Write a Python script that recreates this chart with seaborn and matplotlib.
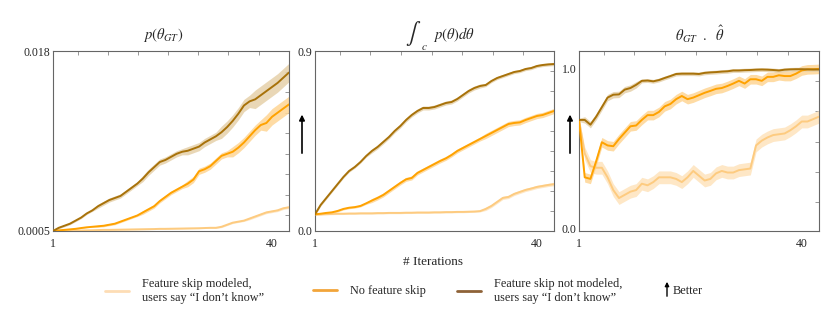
import numpy as np
import pandas as pd
import matplotlib
matplotlib.use('Agg')
import matplotlib.pyplot as plt
import seaborn as sns

iterations = list(range(1, 44))
series_names = ['Feature skip modeled,\nusers say \u201cI don\u2019t know\u201d',
                'No feature skip',
                'Feature skip not modeled,\nusers say \u201cI don\u2019t know\u201d']

# panel 1: p(theta_GT)
p_gt_light = [0.0005, 0.0005, 0.00051, 0.00052, 0.00053, 0.00054, 0.00055, 0.00056, 0.00058, 0.0006,
              0.0006, 0.00061, 0.00062, 0.00063, 0.00064, 0.00065, 0.00066, 0.00067, 0.00068, 0.0007,
              0.0007, 0.00071, 0.00072, 0.00073, 0.00074, 0.00075, 0.00076, 0.00078, 0.0008, 0.0008,
              0.0009, 0.0011, 0.0013, 0.0014, 0.0015, 0.0017, 0.0019, 0.0021, 0.0023, 0.0024,
              0.0025, 0.0027, 0.0028]
p_gt_none = [0.0005, 0.00055, 0.0006, 0.00065, 0.0007, 0.00078, 0.00085, 0.0009, 0.00095, 0.001,
             0.0011, 0.0012, 0.0014, 0.0016, 0.0018, 0.002, 0.0023, 0.0026, 0.0029, 0.0034,
             0.0038, 0.0042, 0.0045, 0.0048, 0.0051, 0.0055, 0.0063, 0.0065, 0.0068, 0.0073,
             0.0078, 0.008, 0.0082, 0.0086, 0.0091, 0.0097, 0.0103, 0.0108, 0.011, 0.0116,
             0.012, 0.0124, 0.0128]
p_gt_dark = [0.0005, 0.0008, 0.001, 0.0012, 0.0015, 0.0018, 0.0022, 0.0025, 0.0029, 0.0032,
             0.0035, 0.0037, 0.0039, 0.0043, 0.0047, 0.0051, 0.0056, 0.0062, 0.0067, 0.0072,
             0.0074, 0.0077, 0.008, 0.0082, 0.0083, 0.0085, 0.0087, 0.0091, 0.0094, 0.0097,
             0.0101, 0.0106, 0.0112, 0.0119, 0.0127, 0.0131, 0.0133, 0.0137, 0.0141, 0.0145,
             0.0149, 0.0154, 0.0159]
p_gt_light_err = [0.00003] * 10 + [0.00005] * 20 + [0.00008] * 5 + [0.00012] * 8
p_gt_none_err = [0.00004] * 8 + [0.0001] * 8 + [0.00018] * 8 + [0.0003] * 8 + [0.0005] * 6 + [0.0008] * 5
p_gt_dark_err = [0.0001] * 8 + [0.0002] * 8 + [0.0003] * 8 + [0.0004] * 6 + [0.0006] * 6 + [0.0009] * 7

# panel 2: integral of p(theta) over c
int_light = [0.083, 0.083, 0.084, 0.085, 0.086, 0.086, 0.087, 0.087, 0.088, 0.088,
             0.088, 0.089, 0.089, 0.09, 0.09, 0.09, 0.091, 0.091, 0.092, 0.092,
             0.092, 0.093, 0.093, 0.094, 0.094, 0.095, 0.095, 0.096, 0.097, 0.099,
             0.11, 0.125, 0.145, 0.165, 0.17, 0.185, 0.195, 0.205, 0.212, 0.22,
             0.225, 0.23, 0.234]
int_none = [0.083, 0.086, 0.09, 0.093, 0.1, 0.11, 0.116, 0.119, 0.125, 0.138,
            0.152, 0.165, 0.18, 0.2, 0.22, 0.24, 0.258, 0.265, 0.29, 0.305,
            0.32, 0.335, 0.35, 0.363, 0.38, 0.4, 0.415, 0.43, 0.445, 0.46,
            0.475, 0.49, 0.505, 0.52, 0.535, 0.54, 0.543, 0.555, 0.565, 0.575,
            0.58, 0.59, 0.6]
int_dark = [0.083, 0.13, 0.165, 0.2, 0.235, 0.27, 0.3, 0.32, 0.345, 0.375,
            0.4, 0.42, 0.445, 0.47, 0.5, 0.525, 0.555, 0.58, 0.6, 0.615,
            0.615, 0.62, 0.63, 0.64, 0.645, 0.66, 0.68, 0.7, 0.715, 0.725,
            0.73, 0.75, 0.765, 0.775, 0.785, 0.795, 0.8, 0.81, 0.815, 0.825,
            0.83, 0.833, 0.835]
int_light_err = [0.004] * 30 + [0.008] * 13
int_none_err = [0.005] * 10 + [0.01] * 20 + [0.013] * 13
int_dark_err = [0.006] * 10 + [0.01] * 20 + [0.008] * 13

# panel 3: theta_GT . theta_hat
dot_light = [0.68, 0.47, 0.39, 0.38, 0.38, 0.32, 0.24, 0.19, 0.21, 0.23,
             0.24, 0.28, 0.27, 0.29, 0.32, 0.32, 0.32, 0.31, 0.29, 0.32,
             0.36, 0.33, 0.3, 0.31, 0.345, 0.36, 0.35, 0.35, 0.365, 0.37,
             0.375, 0.52, 0.55, 0.57, 0.585, 0.59, 0.595, 0.615, 0.64, 0.67,
             0.67, 0.685, 0.7]
dot_none = [0.68, 0.32, 0.31, 0.42, 0.54, 0.52, 0.515, 0.56, 0.6, 0.64,
            0.645, 0.68, 0.71, 0.71, 0.73, 0.765, 0.78, 0.81, 0.83, 0.81,
            0.82, 0.835, 0.85, 0.862, 0.875, 0.88, 0.893, 0.908, 0.925, 0.908,
            0.935, 0.935, 0.925, 0.95, 0.95, 0.96, 0.955, 0.955, 0.97, 0.99,
            0.997, 0.998, 1.0]
dot_dark = [0.68, 0.68, 0.65, 0.7, 0.76, 0.82, 0.838, 0.84, 0.87, 0.88,
            0.9, 0.925, 0.927, 0.922, 0.93, 0.943, 0.955, 0.968, 0.97, 0.97,
            0.97, 0.968, 0.975, 0.978, 0.98, 0.983, 0.985, 0.99, 0.99, 0.992,
            0.993, 0.995, 0.996, 0.995, 0.993, 0.99, 0.995, 0.997, 0.998, 0.998,
            0.997, 0.996, 0.996]
dot_light_err = [0.01] + [0.04] * 42
dot_none_err = [0.01] + [0.03] * 42
dot_dark_err = [0.01] + [0.02] * 10 + [0.012] * 32

line_colors = ['#FDCB80', '#FFA200', '#A8720A']
band_colors = ['#FEE3BC', '#FED594', '#E6D1AA']
legend_colors = ['#FDDDB5', '#F2A53A', '#8E6238']

panels = [
    (r'$p(\theta_{GT})$', [p_gt_light, p_gt_none, p_gt_dark], [p_gt_light_err, p_gt_none_err, p_gt_dark_err]),
    (r'$p(\theta)d\theta$', [int_light, int_none, int_dark], [int_light_err, int_none_err, int_dark_err]),
    (r'$\theta_{GT}\ \ .\ \ \hat{\theta}$', [dot_light, dot_none, dot_dark], [dot_light_err, dot_none_err, dot_dark_err]),
]

sns.set_style('white')
plt.rcParams['font.family'] = ['Liberation Serif', 'DejaVu Serif']
plt.rcParams['mathtext.fontset'] = 'stix'

fig = plt.figure(figsize=(8.3, 3.15), dpi=100)
ax_rects = [[0.064, 0.267, 0.284, 0.571],
            [0.3795, 0.267, 0.288, 0.571],
            [0.6976, 0.267, 0.289, 0.571]]
title_x = [163 / 830, 454 / 830, 700 / 830]

ylims = [(0.0005, 0.018), (0.0, 0.9), (-0.016, 1.112)]
ymajor = [([0.0005, 0.018], ['0.0005', '0.018']),
          ([0.0, 0.9], ['0.0', '0.9']),
          ([0.0, 1.0], ['0.0', '1.0'])]
yminor = [np.arange(0.002, 0.0165, 0.002),
          np.arange(0.1, 0.85, 0.1),
          [0.168, 0.356, 0.544, 0.734, 0.924]]
xminor = [5.4, 10.7, 16.1, 21.5, 26.8, 32.2, 37.6]

for i, (title, values, errs) in enumerate(panels):
    ax = fig.add_axes(ax_rects[i])
    df = pd.DataFrame({
        'iteration': iterations * 3,
        'value': values[0] + values[1] + values[2],
        'series': [series_names[0]] * 43 + [series_names[1]] * 43 + [series_names[2]] * 43,
    })
    for k in range(3):
        v = np.array(values[k])
        e = np.array(errs[k])
        ax.fill_between(iterations, v - e, v + e, color=band_colors[k], lw=0, alpha=0.85, zorder=1)
    sns.lineplot(data=df, x='iteration', y='value', hue='series', palette=line_colors,
                 linewidth=1.4, ax=ax, legend=False, zorder=3)
    ax.set_xlim(1, 43)
    ax.set_ylim(*ylims[i])
    ax.set_xlabel('')
    ax.set_ylabel('')
    ax.set_xticks([1, 40])
    ax.set_xticklabels(['1', '40'])
    ax.set_xticks(xminor, minor=True)
    ax.set_yticks(ymajor[i][0])
    ax.set_yticklabels(ymajor[i][1])
    ax.set_yticks(yminor[i], minor=True)
    ax.tick_params(which='both', direction='in', top=True, right=True, color='#888888',
                   labelsize=8.5, pad=2, width=0.6)
    ax.tick_params(axis='x', which='major', pad=5)
    ax.tick_params(which='major', length=0)
    ax.tick_params(which='minor', length=3)
    for s in ax.spines.values():
        s.set_color('#666666')
        s.set_linewidth(0.8)
    fig.text(title_x[i], 0.89, title, ha='center', va='center', fontsize=10.5)

# big integral sign for the middle title
fig.text(413 / 830, 0.895, r'$\int$', ha='center', va='center', fontsize=16)
fig.text(424 / 830, 0.848, r'$c$', ha='center', va='center', fontsize=8)

# "better" arrows between panels
for xa in [302 / 830, 570 / 830]:
    fig.add_artist(matplotlib.patches.FancyArrowPatch((xa, 0.505), (xa, 0.645), transform=fig.transFigure,
                                                      arrowstyle='-|>', mutation_scale=8, color='black', lw=1.2))

fig.text(433 / 830, 1 - 262 / 315, '# Iterations', ha='center', va='center', fontsize=9.5)

# legend entries, one per series
legend_x = [105 / 830, 313 / 830, 457 / 830]
for k in range(3):
    h = matplotlib.lines.Line2D([], [], color=legend_colors[k], lw=2)
    fig.legend([h], [series_names[k]], loc='center left', bbox_to_anchor=(legend_x[k], 1 - 291 / 315),
               frameon=False, fontsize=8.8, handlelength=2.0, handletextpad=1.0,
               borderpad=0, borderaxespad=0, labelspacing=0.2)

fig.add_artist(matplotlib.patches.FancyArrowPatch((667 / 830, 1 - 299 / 315), (667 / 830, 1 - 279 / 315),
                                                  transform=fig.transFigure, arrowstyle='-|>',
                                                  mutation_scale=6, color='black', lw=1.0))
fig.text(673 / 830, 1 - 291 / 315, 'Better', ha='left', va='center', fontsize=8.8)

fig.savefig('out.png', dpi=100)
